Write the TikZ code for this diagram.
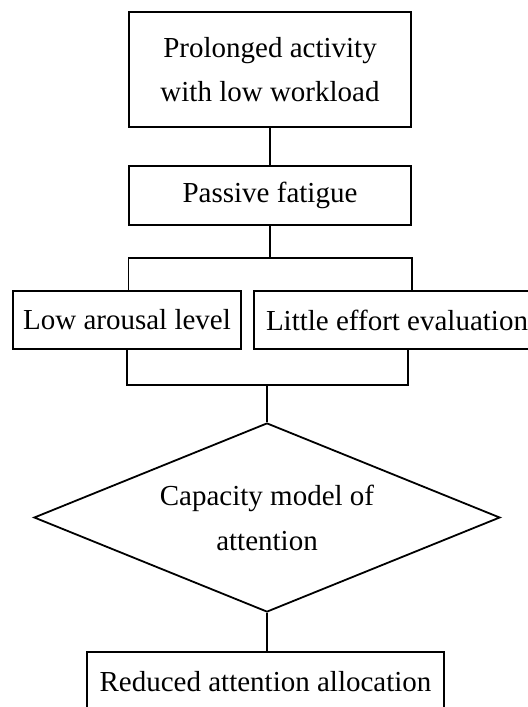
\documentclass[tikz,border=0pt]{standalone}
\usepackage{fontspec}
\setmainfont{Liberation Serif}
\usepackage{tikz}
\usetikzlibrary{shapes.geometric, calc}

\begin{document}
\begin{tikzpicture}[
	x=0.5pt, y=-0.5pt,
	box/.style={draw, line width=0.9pt, rectangle, inner sep=0pt, align=center,
		font=\fontsize{14.5}{22}\selectfont},
	decision/.style={draw, line width=0.9pt, diamond, aspect=2.47, inner sep=0pt, align=center,
		font=\fontsize{14.5}{22.5}\selectfont},
	link/.style={line width=0.6pt}
	]
	
	\useasboundingbox (0, 0) rectangle (527, 707);
	
	\node [box, minimum width=141pt, minimum height=57.5pt] (activity) at (270, 69.5) {Prolonged activity\\with low workload};
	\node [box, minimum width=141pt, minimum height=29.5pt] (fatigue) at (270, 195.5) {Passive fatigue};
	\node [box, minimum width=114pt, minimum height=29pt] (arousal) at (127, 320) {Low arousal level};
	\node [box, minimum width=143pt, minimum height=29pt] (effort) at (397, 320) {Little effort evaluation};
	\node [decision, minimum width=233pt, minimum height=94.5pt] (capacity) at (267, 517.5) {Capacity model of\\attention};
	\node [box, minimum width=178.5pt, minimum height=30pt] (allocation) at (265.5, 682) {Reduced attention allocation};
	
	\coordinate (split) at (fatigue.south |- 0, 258);
	\coordinate (join) at (capacity.north |- 0, 385);
	\coordinate (effortFoot) at (408, 349);
	
	% connectors
	\draw [link] (activity) -- (fatigue);
	\draw [link] (fatigue) -- (split);
	\draw [link] (fatigue.west |- arousal.north) |- (split) -| (fatigue.east |- effort.north);
	\draw [link] (arousal.south) |- (join) -| (effortFoot);
	\draw [link] (join) -- (capacity.north);
	\draw [link] (capacity.south) -- (capacity.south |- allocation.north);
\end{tikzpicture}
\end{document}
